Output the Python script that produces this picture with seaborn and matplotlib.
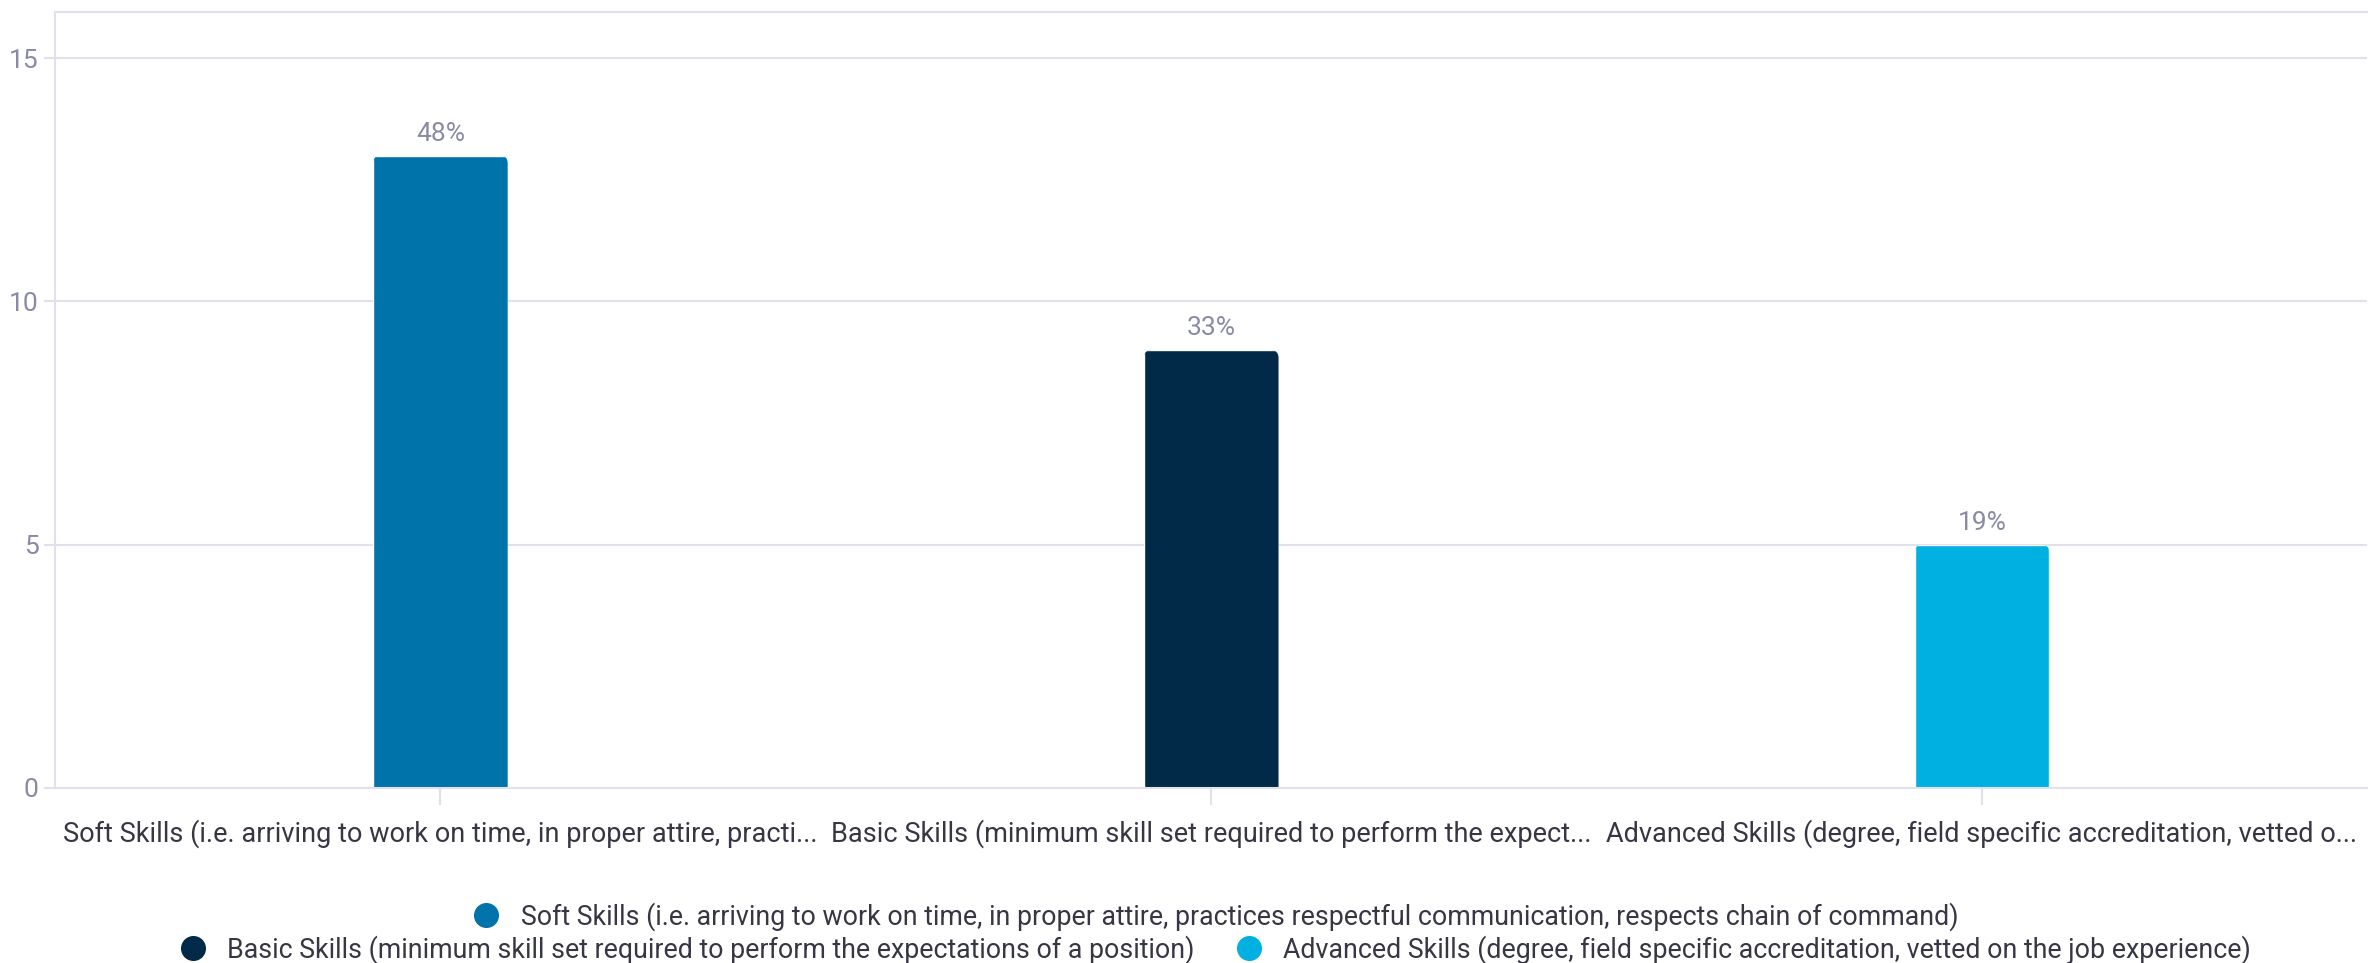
import numpy as np
import pandas as pd
import seaborn as sns
import matplotlib.pyplot as plt
from matplotlib.lines import Line2D
from matplotlib.patches import FancyBboxPatch

# data
categories = [
    'Soft Skills (i.e. arriving to work on time, in proper attire, practices respectful communication, respects chain of command)',
    'Basic Skills (minimum skill set required to perform the expectations of a position)',
    'Advanced Skills (degree, field specific accreditation, vetted on the job experience)',
]
tick_labels = [
    'Soft Skills (i.e. arriving to work on time, in proper attire, practi...',
    'Basic Skills (minimum skill set required to perform the expect...',
    'Advanced Skills (degree, field specific accreditation, vetted o...',
]
counts = [13, 9, 5]
pct_labels = ['48%', '33%', '19%']
colors = ['#0074AA', '#002A48', '#00B0E1']

grid_col = '#E1E1EC'
muted = '#8A8AA6'
text_col = '#363644'

sns.set_theme(style='white')
plt.rcParams['font.family'] = ['Roboto', 'DejaVu Sans']

df = pd.DataFrame({'category': categories, 'count': counts})

fig = plt.figure(figsize=(23.79, 9.63), dpi=100)
ax = fig.add_axes([0.0231, 0.182, 0.972, 0.8055])

sns.barplot(data=df, x='category', y='count', hue='category', order=categories,
            hue_order=categories, palette=colors, width=0.175, legend=False,
            saturation=1, ax=ax)

ax.set_xlim(-0.5, 2.5)
ax.set_ylim(0, 15.95)
ax.set_yticks([0, 5, 10, 15])
ax.yaxis.grid(True, color=grid_col, linewidth=1.5)
ax.set_axisbelow(True)
ax.set_xlabel('')
ax.set_ylabel('')
ax.set_xticks(range(len(categories)))
ax.set_xticklabels(tick_labels, fontsize=19.5, color=text_col)
ax.tick_params(axis='x', length=12, width=1.5, color=grid_col, pad=11)
ax.tick_params(axis='y', length=8, width=1.5, color=grid_col, labelsize=19,
               labelcolor=muted, pad=4)
ax.tick_params(bottom=True, left=True)

for side in ['top', 'left', 'bottom']:
    ax.spines[side].set_color(grid_col)
    ax.spines[side].set_linewidth(1.5)
ax.spines['right'].set_visible(False)

# rounded top corners: clip each bar with a rounded box that dips below 0
fig.canvas.draw()
bbox = ax.get_window_extent()
px_x = bbox.width / 3.0
px_y = bbox.height / 15.95
rad = 8
for bar in ax.patches:
    x, w, h = bar.get_x(), bar.get_width(), bar.get_height()
    ry = rad / px_y
    clip = FancyBboxPatch((x, -2 * ry), w, h + 2 * ry,
                          boxstyle='round,pad=0,rounding_size=%f' % (rad / px_x),
                          mutation_aspect=px_x / px_y, transform=ax.transData,
                          facecolor='none', edgecolor='none')
    ax.add_patch(clip)
    bar.set_clip_path(clip)

for i, (v, lab) in enumerate(zip(counts, pct_labels)):
    ax.text(i, v + 0.2, lab, ha='center', va='bottom', fontsize=19, color=muted)

# legend wraps like the html original: first entry alone, then two
def handle(c):
    return Line2D([], [], marker='o', linestyle='', markersize=17,
                  markerfacecolor=c, markeredgecolor=c)

leg1 = fig.legend([handle(colors[0])], [categories[0]], loc='center',
                  bbox_to_anchor=(0.508, 0.048), frameon=False, fontsize=19.3,
                  handletextpad=0.3, labelcolor=text_col)
leg2 = fig.legend([handle(colors[1]), handle(colors[2])], categories[1:],
                  loc='center', bbox_to_anchor=(0.508, 0.014), ncol=2,
                  frameon=False, fontsize=19.3, handletextpad=0.3,
                  columnspacing=1.0, labelcolor=text_col)

fig.savefig('out.png', dpi=100)
